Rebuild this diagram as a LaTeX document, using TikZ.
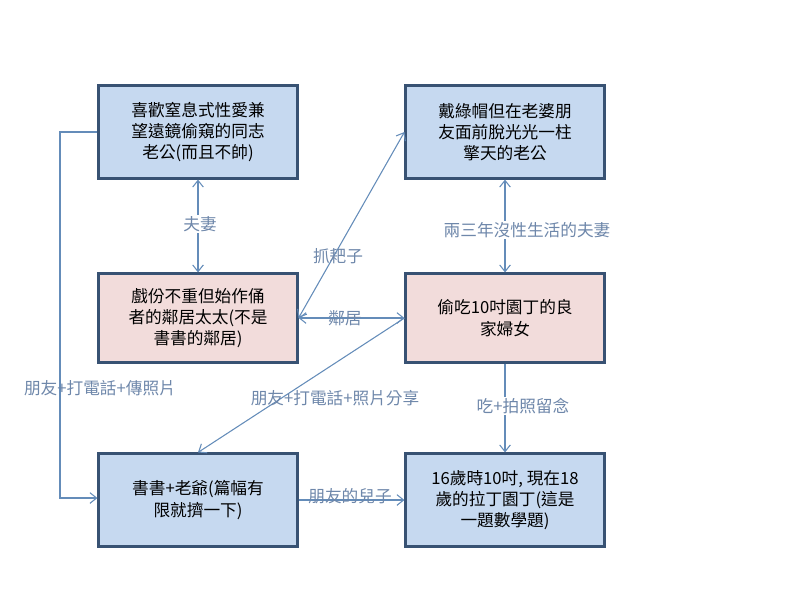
\documentclass[tikz,border=0pt]{standalone}
\usepackage{fontspec}
\setmainfont{Noto Sans CJK TC}
\usetikzlibrary{arrows.meta}
\definecolor{bfill}{RGB}{198,217,240}
\definecolor{pfill}{RGB}{242,220,219}
\definecolor{bord}{RGB}{56,82,115}
\definecolor{conn}{RGB}{100,140,185}
\definecolor{lab}{RGB}{110,135,170}
\tikzset{
 box/.style={draw=bord,line width=1.6pt,minimum width=199*0.75pt,minimum height=93*0.75pt,align=center,font=\fontsize{12.5}{16}\selectfont,inner sep=2pt},
 bbox/.style={box,fill=bfill},
 pbox/.style={box,fill=pfill},
 conline/.style={draw=conn,line width=0.8pt},
 arr/.style={conline,-{Straight Barb[length=5pt,width=8pt]}},
 darr/.style={conline,{Straight Barb[length=5pt,width=8pt]}-{Straight Barb[length=5pt,width=8pt]}},
 lbl/.style={text=lab,font=\fontsize{12.5}{15}\selectfont,inner sep=1pt}
}
\begin{document}
\begin{tikzpicture}[x=0.75pt,y=-0.75pt]
\useasboundingbox (0,0) rectangle (800,600);
\node[bbox] (A) at (198,132) {喜歡窒息式性愛兼\\望遠鏡偷窺的同志\\老公(而且不帥)};
\node[bbox] (B) at (505,132) {戴綠帽但在老婆朋\\友面前脫光光一柱\\擎天的老公};
\node[pbox,minimum height=89*0.75pt] (C) at (198,318) {戲份不重但始作俑\\者的鄰居太太(不是\\書書的鄰居)};
\node[pbox,minimum height=89*0.75pt] (D) at (505,318) {偷吃10吋園丁的良\\家婦女};
\node[bbox] (E) at (198,500) {書書+老爺(篇幅有\\限就擠一下)};
\node[bbox] (F) at (505,500) {16歲時10吋, 現在18\\歲的拉丁園丁(這是\\一題數學題)};
\coordinate (L1) at (60,132);
\coordinate (L2) at (60,498);
\draw[darr] (A) -- (C);
\draw[darr] (C.east) -- (B.west);
\draw[darr] (C) -- (D);
\draw[darr] (B) -- (D);
\draw[arr] (D.west) -- (E.north);
\draw[arr] (D) -- (F);
\draw[arr] (E) -- (F);
\draw[arr] (A.west) -- (L1) -- (L2) -- (E.west |- L2);
\node[lbl,fill=white] at (200,224) {夫妻};
\node[lbl] at (338,256) {抓耙子};
\node[lbl] at (345,318) {鄰居};
\node[lbl,fill=white] at (527,230) {兩三年沒性生活的夫妻};
\node[lbl] at (335,398) {朋友+打電話+照片分享};
\node[lbl,fill=white] at (523,406) {吃+拍照留念};
\node[lbl] at (350,496) {朋友的兒子};
\node[lbl] at (100,388) {朋友+打電話+傳照片};
\end{tikzpicture}
\end{document}
